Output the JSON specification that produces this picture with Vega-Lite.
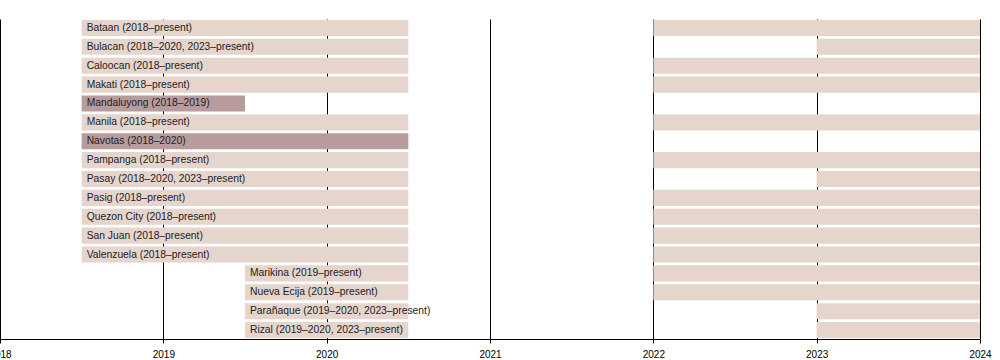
{
  "$schema": "https://vega.github.io/schema/vega-lite/v6.json",
  "width": 980,
  "height": 320,
  "autosize": {"type": "none"},
  "padding": {"left": 0, "top": 19, "right": 20, "bottom": 21},
  "config": {"view": {"stroke": null}, "font": "Liberation Sans"},
  "data": {
    "values": [
      {"name": "Bataan", "seg": 1, "start": 2018.5, "end": 2020.5, "status": "current", "label": "Bataan (2018–present)"},
      {"name": "Bataan", "seg": 2, "start": 2022, "end": 2024, "status": "current", "label": ""},
      {"name": "Bulacan", "seg": 1, "start": 2018.5, "end": 2020.5, "status": "current", "label": "Bulacan (2018–2020, 2023–present)"},
      {"name": "Bulacan", "seg": 2, "start": 2023, "end": 2024, "status": "current", "label": ""},
      {"name": "Caloocan", "seg": 1, "start": 2018.5, "end": 2020.5, "status": "current", "label": "Caloocan (2018–present)"},
      {"name": "Caloocan", "seg": 2, "start": 2022, "end": 2024, "status": "current", "label": ""},
      {"name": "Makati", "seg": 1, "start": 2018.5, "end": 2020.5, "status": "current", "label": "Makati (2018–present)"},
      {"name": "Makati", "seg": 2, "start": 2022, "end": 2024, "status": "current", "label": ""},
      {"name": "Mandaluyong", "seg": 1, "start": 2018.5, "end": 2019.5, "status": "former", "label": "Mandaluyong (2018–2019)"},
      {"name": "Manila", "seg": 1, "start": 2018.5, "end": 2020.5, "status": "current", "label": "Manila (2018–present)"},
      {"name": "Manila", "seg": 2, "start": 2022, "end": 2024, "status": "current", "label": ""},
      {"name": "Navotas", "seg": 1, "start": 2018.5, "end": 2020.5, "status": "former", "label": "Navotas (2018–2020)"},
      {"name": "Pampanga", "seg": 1, "start": 2018.5, "end": 2020.5, "status": "current", "label": "Pampanga (2018–present)"},
      {"name": "Pampanga", "seg": 2, "start": 2022, "end": 2024, "status": "current", "label": ""},
      {"name": "Pasay", "seg": 1, "start": 2018.5, "end": 2020.5, "status": "current", "label": "Pasay (2018–2020, 2023–present)"},
      {"name": "Pasay", "seg": 2, "start": 2023, "end": 2024, "status": "current", "label": ""},
      {"name": "Pasig", "seg": 1, "start": 2018.5, "end": 2020.5, "status": "current", "label": "Pasig (2018–present)"},
      {"name": "Pasig", "seg": 2, "start": 2022, "end": 2024, "status": "current", "label": ""},
      {"name": "Quezon City", "seg": 1, "start": 2018.5, "end": 2020.5, "status": "current", "label": "Quezon City (2018–present)"},
      {"name": "Quezon City", "seg": 2, "start": 2022, "end": 2024, "status": "current", "label": ""},
      {"name": "San Juan", "seg": 1, "start": 2018.5, "end": 2020.5, "status": "current", "label": "San Juan (2018–present)"},
      {"name": "San Juan", "seg": 2, "start": 2022, "end": 2024, "status": "current", "label": ""},
      {"name": "Valenzuela", "seg": 1, "start": 2018.5, "end": 2020.5, "status": "current", "label": "Valenzuela (2018–present)"},
      {"name": "Valenzuela", "seg": 2, "start": 2022, "end": 2024, "status": "current", "label": ""},
      {"name": "Marikina", "seg": 1, "start": 2019.5, "end": 2020.5, "status": "current", "label": "Marikina (2019–present)"},
      {"name": "Marikina", "seg": 2, "start": 2022, "end": 2024, "status": "current", "label": ""},
      {"name": "Nueva Ecija", "seg": 1, "start": 2019.5, "end": 2020.5, "status": "current", "label": "Nueva Ecija (2019–present)"},
      {"name": "Nueva Ecija", "seg": 2, "start": 2022, "end": 2024, "status": "current", "label": ""},
      {"name": "Parañaque", "seg": 1, "start": 2019.5, "end": 2020.5, "status": "current", "label": "Parañaque (2019–2020, 2023–present)"},
      {"name": "Parañaque", "seg": 2, "start": 2023, "end": 2024, "status": "current", "label": ""},
      {"name": "Rizal", "seg": 1, "start": 2019.5, "end": 2020.5, "status": "current", "label": "Rizal (2019–2020, 2023–present)"},
      {"name": "Rizal", "seg": 2, "start": 2023, "end": 2024, "status": "current", "label": ""}
    ]
  },
  "encoding": {
    "y": {
      "field": "name",
      "type": "nominal",
      "sort": ["Bataan", "Bulacan", "Caloocan", "Makati", "Mandaluyong", "Manila", "Navotas", "Pampanga", "Pasay", "Pasig", "Quezon City", "San Juan", "Valenzuela", "Marikina", "Nueva Ecija", "Parañaque", "Rizal"],
      "axis": null,
      "scale": {"paddingInner": 0.15, "paddingOuter": 0.05}
    }
  },
  "layer": [
    {
      "mark": {"type": "bar"},
      "encoding": {
        "x": {
          "field": "start",
          "type": "quantitative",
          "scale": {"domain": [2018, 2024], "nice": false, "zero": false},
          "axis": {
            "values": [2018, 2019, 2020, 2021, 2022, 2023, 2024],
            "format": "d",
            "title": null,
            "grid": true,
            "gridColor": "black",
            "gridOpacity": 1,
            "gridWidth": 1,
            "domainColor": "black",
            "domainWidth": 1,
            "tickColor": "black",
            "tickSize": 4,
            "labelPadding": 6,
            "labelFontSize": 10,
            "labelColor": "black",
            "labelFlush": false,
            "labelOverlap": false
          }
        },
        "x2": {"field": "end"},
        "color": {
          "field": "status",
          "type": "nominal",
          "scale": {"domain": ["current", "former"], "range": ["#e5d5cd", "#b89b9d"]},
          "legend": null
        }
      }
    },
    {
      "transform": [{"filter": "datum.seg == 1"}],
      "mark": {"type": "text", "align": "left", "baseline": "middle", "dx": 5, "fontSize": 10.3, "color": "#222222"},
      "encoding": {
        "x": {"field": "start", "type": "quantitative"},
        "text": {"field": "label"}
      }
    }
  ]
}
